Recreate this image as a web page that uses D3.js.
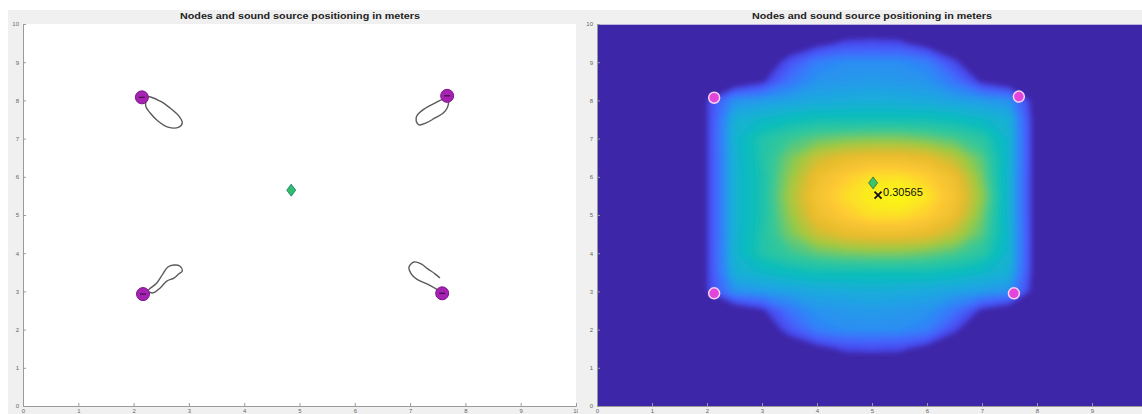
<!DOCTYPE html>
<html>
<head>
<meta charset="utf-8">
<script src="https://cdn.jsdelivr.net/npm/d3@7"></script>
<style>
  body { margin: 0; background: #fff; }
  svg { display: block; font-family: "Liberation Sans", Arial, sans-serif; }
</style>
</head>
<body>
<svg id="chart" width="1142" height="414"></svg>
<script>
// ---- data ----
const title = "Nodes and sound source positioning in meters"
const tickValues = [0, 1, 2, 3, 4, 5, 6, 7, 8, 9, 10]

// node positions (m)
const nodesLeft = [{x: 2.15, y: 8.08}, {x: 7.67, y: 8.12}, {x: 2.17, y: 2.93}, {x: 7.58, y: 2.95}]
const nodesRight = [{x: 2.13, y: 8.07}, {x: 7.67, y: 8.1}, {x: 2.13, y: 2.95}, {x: 7.58, y: 2.95}]

// sound source (diamond) and estimate (x)
const sourceLeft = {x: 4.85, y: 5.65}
const sourceRight = {x: 5.02, y: 5.84}
const estimate = {x: 5.11, y: 5.52}
const peakValue = 0.30565

// traces drawn next to each node in the left plot
const tracks = [
  [[2.26, 8.09], [2.48, 7.98], [2.66, 7.80], [2.82, 7.59], [2.88, 7.41], [2.82, 7.30],
   [2.62, 7.30], [2.44, 7.46], [2.30, 7.67], [2.22, 7.85]],
  [[2.26, 3.01], [2.42, 3.22], [2.53, 3.46], [2.62, 3.64], [2.73, 3.69], [2.84, 3.66],
   [2.88, 3.53], [2.82, 3.46], [2.73, 3.35], [2.60, 3.27], [2.48, 3.09], [2.35, 2.96]],
  [[7.63, 8.04], [7.45, 7.93], [7.25, 7.77], [7.12, 7.59], [7.11, 7.46], [7.16, 7.36],
   [7.29, 7.41], [7.45, 7.54], [7.60, 7.67], [7.67, 7.80], [7.69, 7.98]],
  [[7.50, 3.04], [7.34, 3.17], [7.12, 3.32], [7.02, 3.46], [6.98, 3.64], [7.07, 3.77],
   [7.20, 3.72], [7.32, 3.59], [7.45, 3.46], [7.54, 3.35]]
]
const trackClosed = [true, true, true, false]

// heat map (relative level), columns x = 0..10 step 0.5, rows y = 10..0 step 0.5
const heatX = [0, 0.5, 1, 1.5, 2, 2.5, 3, 3.5, 4, 4.5, 5, 5.5, 6, 6.5, 7, 7.5, 8, 8.5, 9, 9.5, 10]
const heatY = [10, 9.5, 9, 8.5, 8, 7.5, 7, 6.5, 6, 5.5, 5, 4.5, 4, 3.5, 3, 2.5, 2, 1.5, 1, 0.5, 0]
const heat = [
  [0, 0, 0, 0, 0, 0, 0, 0, 0, 0, 0, 0, 0, 0, 0, 0, 0, 0, 0, 0, 0],
  [0, 0, 0, 0, 0, 0, 0, 0, .06, .12, .13, .12, .05, 0, 0, 0, 0, 0, 0, 0, 0],
  [0, 0, 0, 0, 0, 0, 0, .15, .28, .32, .32, .32, .28, .12, 0, 0, 0, 0, 0, 0, 0],
  [0, 0, 0, 0, 0, 0, .08, .25, .34, .35, .36, .35, .34, .25, .08, 0, 0, 0, 0, 0, 0],
  [0, 0, 0, 0, .1, .33, .36, .38, .4, .41, .42, .41, .4, .38, .36, .33, .02, 0, 0, 0, 0],
  [0, 0, 0, 0, .1, .43, .47, .5, .52, .52, .52, .52, .52, .5, .47, .43, .02, 0, 0, 0, 0],
  [0, 0, 0, 0, .1, .45, .55, .6, .64, .66, .67, .67, .65, .62, .57, .45, .02, 0, 0, 0, 0],
  [0, 0, 0, 0, .1, .44, .55, .66, .76, .81, .83, .83, .81, .74, .63, .45, .02, 0, 0, 0, 0],
  [0, 0, 0, 0, .1, .44, .54, .69, .83, .9, .95, .95, .91, .83, .66, .44, .02, 0, 0, 0, 0],
  [0, 0, 0, 0, .1, .44, .54, .71, .86, .94, .98, 1, .96, .86, .69, .44, .02, 0, 0, 0, 0],
  [0, 0, 0, 0, .1, .44, .54, .69, .83, .9, .95, .95, .91, .83, .66, .44, .02, 0, 0, 0, 0],
  [0, 0, 0, 0, .1, .44, .55, .66, .76, .81, .83, .83, .81, .74, .63, .45, .02, 0, 0, 0, 0],
  [0, 0, 0, 0, .1, .45, .55, .6, .64, .66, .67, .67, .65, .62, .57, .45, .02, 0, 0, 0, 0],
  [0, 0, 0, 0, .1, .43, .47, .5, .52, .52, .52, .52, .52, .5, .47, .43, .02, 0, 0, 0, 0],
  [0, 0, 0, 0, .1, .33, .36, .38, .4, .41, .42, .41, .4, .38, .36, .33, .02, 0, 0, 0, 0],
  [0, 0, 0, 0, 0, 0, .08, .25, .34, .35, .36, .35, .34, .25, .08, 0, 0, 0, 0, 0, 0],
  [0, 0, 0, 0, 0, 0, 0, .15, .28, .32, .32, .32, .28, .12, 0, 0, 0, 0, 0, 0, 0],
  [0, 0, 0, 0, 0, 0, 0, 0, .06, .12, .13, .12, .06, 0, 0, 0, 0, 0, 0, 0, 0],
  [0, 0, 0, 0, 0, 0, 0, 0, 0, 0, 0, 0, 0, 0, 0, 0, 0, 0, 0, 0, 0],
  [0, 0, 0, 0, 0, 0, 0, 0, 0, 0, 0, 0, 0, 0, 0, 0, 0, 0, 0, 0, 0],
  [0, 0, 0, 0, 0, 0, 0, 0, 0, 0, 0, 0, 0, 0, 0, 0, 0, 0, 0, 0, 0]
]

// parula-like colormap stops
const parulaStops = ["#3e26a8", "#4741e5", "#4563fd", "#2e87f7", "#1ca9df", "#0bbdbd",
                     "#37c897", "#9dc943", "#e6bb2d", "#fec934", "#f9fb15"]

// ---- drawing ----
const svg = d3.select("#chart")
const pageWidth = 1142

function make_scales(left, right) {
  return {
    x: d3.scaleLinear().domain([0, 10]).range([left, right]),
    y: d3.scaleLinear().domain([0, 10]).range([406, 24])
  }
}

function draw_frame(g, x0, width, cx) {
  g.append("rect")
    .attr("x", x0).attr("y", 10).attr("width", width).attr("height", 404)
    .attr("fill", "#f0f0f0")
  g.append("text")
    .attr("x", cx).attr("y", 19)
    .attr("text-anchor", "middle")
    .attr("font-size", 9).attr("font-weight", "bold")
    .attr("textLength", 240).attr("lengthAdjust", "spacingAndGlyphs")
    .attr("fill", "#222")
    .text(title)
}

function draw_axes(g, scales) {
  // only keep x labels that fall inside the page
  let xt = tickValues.filter(v => scales.x(v) < pageWidth - 2)
  let x_axis = d3.axisBottom(scales.x).tickValues(xt).tickSize(-3).tickPadding(3)
  let y_axis = d3.axisLeft(scales.y).tickValues(tickValues).tickSize(-3).tickPadding(4)
  let gx = g.append("g")
    .attr("transform", `translate(0, ${scales.y(0)})`)
    .call(x_axis)
  let gy = g.append("g")
    .attr("transform", `translate(${scales.x(0)}, 0)`)
    .call(y_axis)
  for (let a of [gx, gy]) {
    a.selectAll("path, line").attr("stroke", "#9a9a9a")
    a.selectAll("text").attr("font-size", 6).attr("fill", "#666")
      .attr("font-family", "Liberation Sans, Arial, sans-serif")
  }
}

// left panel
let sl = make_scales(23, 576)
let gl = svg.append("g")
draw_frame(gl, 8, 570, 300)
gl.append("rect")
  .attr("x", sl.x(0)).attr("y", sl.y(10))
  .attr("width", sl.x(10) - sl.x(0)).attr("height", sl.y(0) - sl.y(10))
  .attr("fill", "#fff")

for (let i = 0; i < tracks.length; i++) {
  let line = d3.line()
    .x(d => sl.x(d[0]))
    .y(d => sl.y(d[1]))
    .curve(trackClosed[i] ? d3.curveCatmullRomClosed : d3.curveCatmullRom)
  gl.append("path")
    .attr("d", line(tracks[i]))
    .attr("fill", "none")
    .attr("stroke", "#5a5a5a")
    .attr("stroke-width", 1.4)
}

gl.selectAll("circle.node")
  .data(nodesLeft).enter()
  .append("circle")
  .attr("class", "node")
  .attr("cx", d => sl.x(d.x)).attr("cy", d => sl.y(d.y)).attr("r", 6.5)
  .attr("fill", "#a622b2").attr("stroke", "#7a1586").attr("stroke-width", 1)
gl.selectAll("line.dash")
  .data(nodesLeft).enter()
  .append("line")
  .attr("x1", d => sl.x(d.x) - 3).attr("x2", d => sl.x(d.x) + 3)
  .attr("y1", d => sl.y(d.y)).attr("y2", d => sl.y(d.y))
  .attr("stroke", "#3a0f42").attr("stroke-width", 1.2)

function diamond(g, scales, p, fill, stroke) {
  let cx = scales.x(p.x), cy = scales.y(p.y)
  g.append("path")
    .attr("d", `M${cx},${cy - 6}L${cx + 4.5},${cy}L${cx},${cy + 6}L${cx - 4.5},${cy}Z`)
    .attr("fill", fill).attr("stroke", stroke).attr("stroke-width", 0.8)
}
diamond(gl, sl, sourceLeft, "#2fbf6f", "#1e6f70")
draw_axes(gl, sl)

// right panel
let sr = make_scales(597, 1147)
let gr = svg.append("g")
draw_frame(gr, 578, 564, 872)

let defs = svg.append("defs")
defs.append("clipPath").attr("id", "plotclip")
  .append("rect")
  .attr("x", sr.x(0)).attr("y", sr.y(10))
  .attr("width", sr.x(10) - sr.x(0)).attr("height", sr.y(0) - sr.y(10))
defs.append("filter").attr("id", "soft")
  .attr("x", "-5%").attr("y", "-5%").attr("width", "110%").attr("height", "110%")
  .append("feGaussianBlur").attr("stdDeviation", 2.5)

let color = d3.scaleLinear()
  .domain(d3.range(parulaStops.length).map(i => i / (parulaStops.length - 1)))
  .range(parulaStops)
  .clamp(true)

let gh = gr.append("g").attr("clip-path", "url(#plotclip)")
gh.append("rect")
  .attr("x", sr.x(0)).attr("y", sr.y(10))
  .attr("width", sr.x(10) - sr.x(0)).attr("height", sr.y(0) - sr.y(10))
  .attr("fill", color(0))

let nx = heatX.length, ny = heatY.length
let dxStep = heatX[1] - heatX[0], dyStep = heatY[1] - heatY[0]
let thresholds = d3.range(0.1, 1.0, 0.02)
let contours = d3.contours().size([nx, ny]).thresholds(thresholds)(heat.flat())
let proj = d3.geoTransform({
  point: function (gx, gy) {
    this.stream.point(sr.x(heatX[0] + (gx - 0.5) * dxStep), sr.y(heatY[0] + (gy - 0.5) * dyStep))
  }
})
let geo = d3.geoPath(proj)
gh.append("g").attr("filter", "url(#soft)")
  .selectAll("path")
  .data(contours).enter()
  .append("path")
  .attr("d", geo)
  .attr("fill", d => color(d.value + 0.01))

gr.append("rect")
  .attr("x", sr.x(0) + 0.5).attr("y", sr.y(10) + 0.5)
  .attr("width", sr.x(10) - sr.x(0)).attr("height", sr.y(0) - sr.y(10))
  .attr("fill", "none").attr("stroke", "#b9b4e0").attr("stroke-width", 1)

gr.selectAll("circle.node")
  .data(nodesRight).enter()
  .append("circle")
  .attr("class", "node")
  .attr("cx", d => sr.x(d.x)).attr("cy", d => sr.y(d.y)).attr("r", 5.5)
  .attr("fill", "#e244dc").attr("stroke", "#f7d3f3").attr("stroke-width", 1.5)

diamond(gr, sr, sourceRight, "#3cc36b", "#2b6f3c")

let ex = sr.x(estimate.x), ey = sr.y(estimate.y)
gr.append("path")
  .attr("d", `M${ex - 3.5},${ey - 3.5}L${ex + 3.5},${ey + 3.5}M${ex - 3.5},${ey + 3.5}L${ex + 3.5},${ey - 3.5}`)
  .attr("stroke", "#111").attr("stroke-width", 1.8)
gr.append("text")
  .attr("x", ex + 5).attr("y", ey + 1)
  .attr("font-size", 11).attr("fill", "#111")
  .text(peakValue)

draw_axes(gr, sr)
</script>
</body>
</html>
